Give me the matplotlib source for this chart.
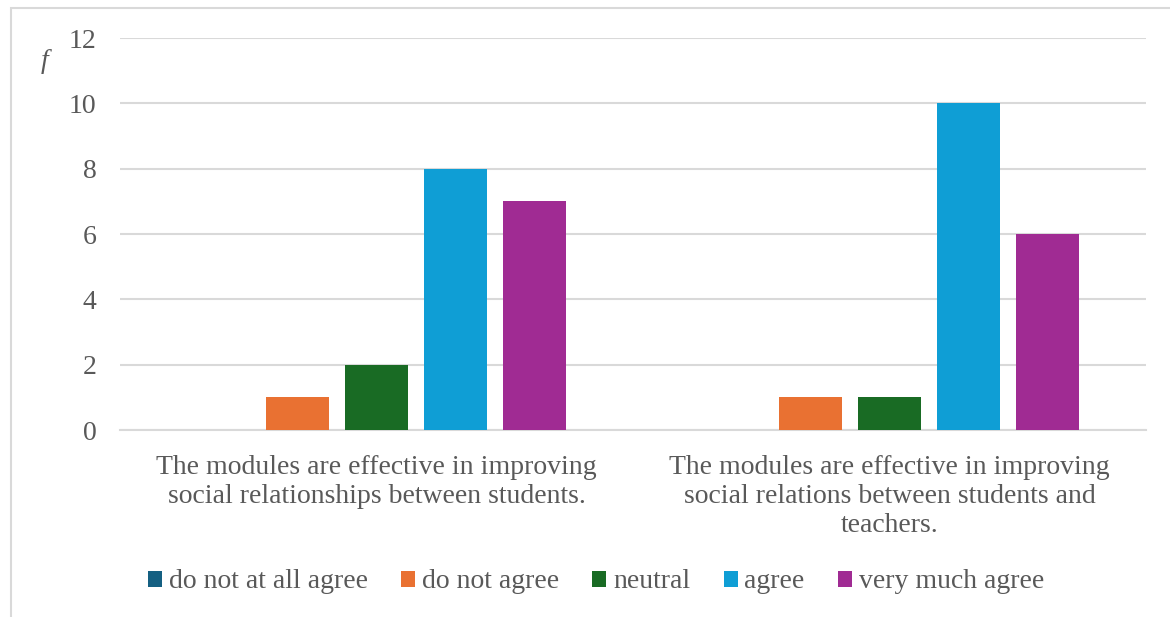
import matplotlib.pyplot as plt
from matplotlib.patches import Rectangle
import numpy as np

categories = ["The modules are effective in improving\nsocial relationships between students.",
              "The modules are effective in improving\nsocial relations between students and\nteachers."]
series_names = ["do not at all agree", "do not agree", "neutral", "agree", "very much agree"]
values = [
    [0, 0],
    [1, 1],
    [2, 1],
    [8, 10],
    [7, 6],
]
colors = ["#156082", "#E97132", "#196B24", "#0F9ED5", "#A02B93"]

text_color = "#595959"
grid_color = "#d9d9d9"
plt.rcParams['font.family'] = ['Liberation Serif', 'DejaVu Serif']

fig = plt.figure(figsize=(11.7, 6.17), dpi=100)
W, H = 1170, 617
ax = fig.add_axes([120 / W, 1 - 430 / H, 1026 / W, (430 - 38) / H])

# outer chart border (cropped on right and bottom)
fig.patches.append(Rectangle((11 / W, -0.1), 1.2, 1 - 8 / H + 0.1, transform=fig.transFigure,
                             fill=False, edgecolor=grid_color, linewidth=1.5))

x = np.arange(len(categories)) + 0.5
step = 79 / 513
width = 63 / 513
for i, (name, vals) in enumerate(zip(series_names, values)):
    ax.bar(x + (i - 2) * step, vals, width=width, color=colors[i], label=name, zorder=3)

ax.set_xlim(0, 2)
ax.set_ylim(0, 12)
ax.set_yticks(range(0, 13, 2))
ax.yaxis.grid(True, color=grid_color, linewidth=1.5, zorder=0)
for s in ["top", "right", "left"]:
    ax.spines[s].set_visible(False)
ax.spines["bottom"].set_color(grid_color)
ax.spines["bottom"].set_linewidth(1.5)
ax.tick_params(axis="y", length=0, pad=17, labelsize=20, labelcolor=text_color)
ax.set_xticks(x)
ax.set_xticklabels(categories, fontsize=20, color=text_color, linespacing=1.22)
ax.tick_params(axis="x", length=0, pad=18)

fig.text(45 / W, 1 - 62 / H, "f", fontsize=20, style="italic", color=text_color,
         ha="center", va="center")

leg = fig.legend(loc="center", bbox_to_anchor=(596 / W, 1 - 582 / H), ncol=5, frameon=False,
                 fontsize=20, handlelength=0.5, handleheight=0.5, handletextpad=0.25,
                 columnspacing=1.2, labelcolor=text_color)

fig.savefig("out.png", dpi=100)
